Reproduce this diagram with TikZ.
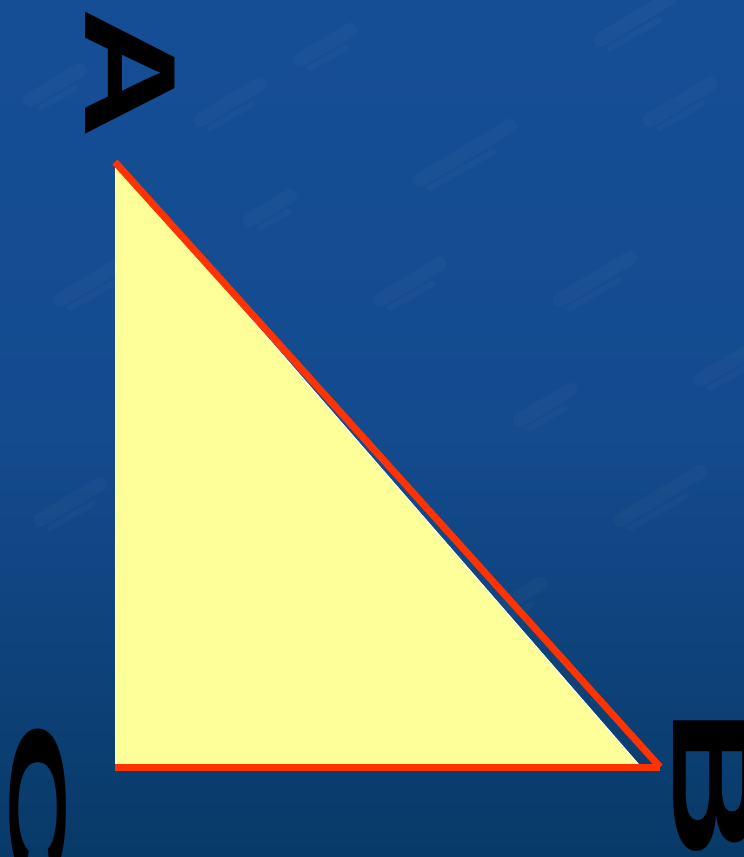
\documentclass[tikz,border=0pt]{standalone}
\usepackage{fontspec}
\setmainfont{Liberation Sans}
\definecolor{bgtop}{RGB}{22,78,150}
\definecolor{bgbot}{RGB}{8,58,104}
\definecolor{triyellow}{RGB}{255,255,153}
\definecolor{edgered}{RGB}{255,51,0}
\begin{document}
\begin{tikzpicture}[x=1pt,y=-1pt,
  redge/.style={draw=edgered,line width=7pt},
  vlabel/.style={inner sep=0pt,rotate=-90,text=black,font=\bfseries}]
\useasboundingbox (0,0) rectangle (744,857);
\shade[top color=bgtop,bottom color=bgbot,middle color=bgtop!85!bgbot] (0,0) rectangle (744,857);
% faint mottled texture
\foreach \x/\y/\l in {60/300/80,200/120/60,420/180/90,560/300/70,300/60/50,620/520/80,480/620/60,250/220/40,650/120/60,520/420/50,40/520/60,700/380/50,380/300/60,600/40/70,30/100/50}{
  \draw[white,opacity=0.025,line width=14pt,line cap=round] (\x,\y) -- ++(\l,-0.6*\l);
  \draw[white,opacity=0.025,line width=6pt,line cap=round] (\x+10,\y+8) -- ++(0.7*\l,-0.4*\l);
}
\coordinate (A) at (115,162);
\coordinate (C) at (115,767);
\coordinate (B) at (660,767);
\coordinate (Y) at (641,767);
\fill[triyellow] (A) -- (C) -- (Y) -- cycle;
\draw[white,line width=1pt] (A) -- (C);
\draw[white,line width=0.8pt] (A) -- (Y);
\draw[redge] (C) -- (B);
\draw[redge] (A) -- (B);
\node[vlabel] (la) at (130,73) {\scalebox{1.4}[1]{\fontsize{130}{130}\selectfont A}};
\node[vlabel] (lb) at (714,784) {\scalebox{1.8}[1]{\fontsize{119}{119}\selectfont B}};
\node[vlabel] (lc) at (38,803) {\scalebox{2.9}[1]{\fontsize{80}{80}\selectfont C}};
\end{tikzpicture}
\end{document}
